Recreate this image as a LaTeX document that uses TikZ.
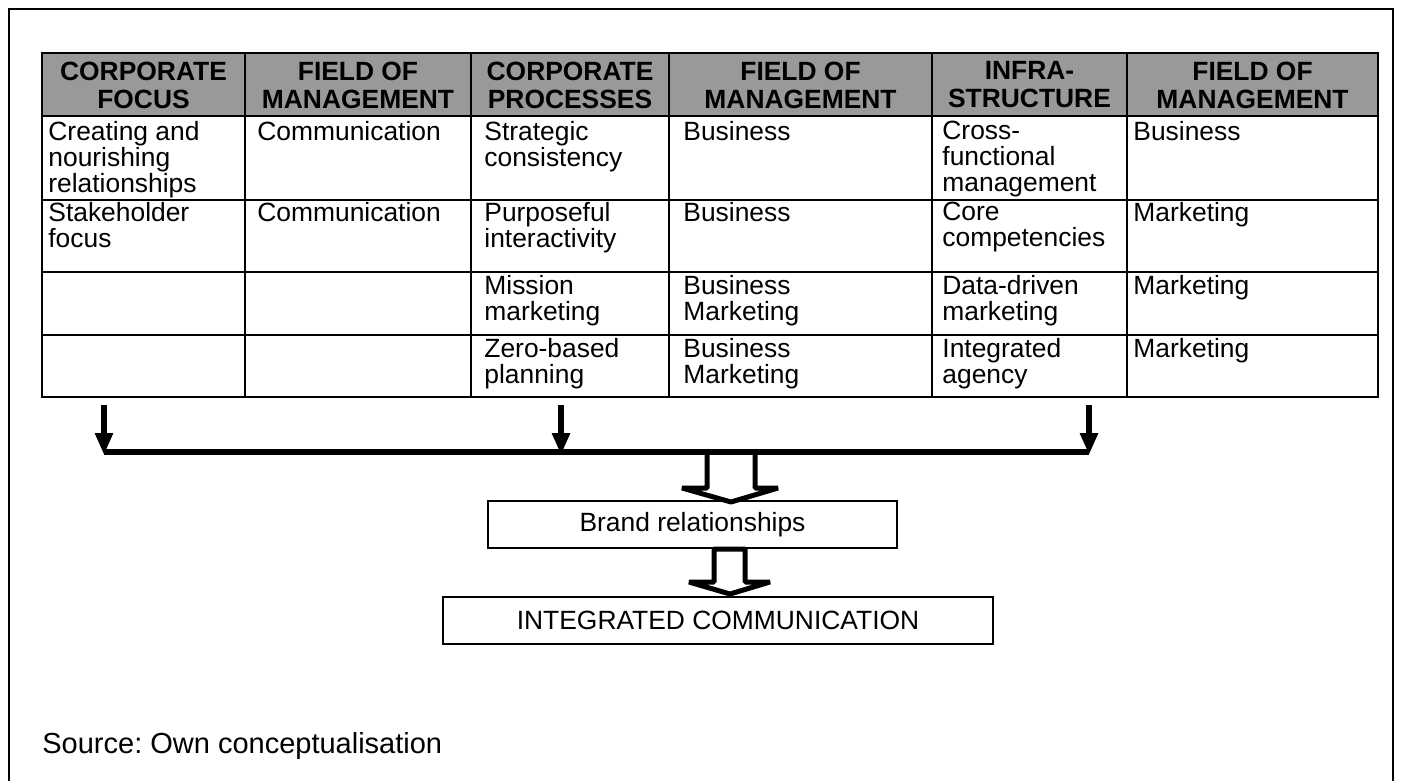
\documentclass[tikz,border=0pt]{standalone}
\usepackage{fontspec}
\setmainfont{Liberation Sans}
\usetikzlibrary{arrows.meta}
\definecolor{headgray}{RGB}{153,153,153}
\newcommand{\tabfont}{\fontsize{13.2}{13}\selectfont}
\newcommand{\srcfont}{\fontsize{14.5}{16}\selectfont}
\frenchspacing

\begin{document}
\begin{tikzpicture}[x=0.5pt,y=-0.5pt]
\useasboundingbox (0,0) rectangle (1401,781);
\draw[line width=1pt] (9,781) -- (9,9) -- (1393,9) -- (1393,781);

% table grid
\fill[headgray] (42,53) rectangle (1378,116);
\draw[line width=1pt] (42,53) rectangle (1378,397);
\draw[line width=1pt] (42,116) -- (1378,116);
\draw[line width=1pt] (42,200) -- (1378,200);
\draw[line width=1pt] (42,272) -- (1378,272);
\draw[line width=1pt] (42,335) -- (1378,335);
\draw[line width=1pt] (245,53) -- (245,397);
\draw[line width=1pt] (471,53) -- (471,397);
\draw[line width=1pt] (669,53) -- (669,397);
\draw[line width=1pt] (932,53) -- (932,397);
\draw[line width=1pt] (1127,53) -- (1127,397);

\begin{scope}[every node/.style={font=\fontsize{13.2}{14}\selectfont\bfseries,align=center,inner sep=0pt}]
    \node (h1) at (143.5,85) {CORPORATE\\FOCUS};
    \node (h2) at (358,85) {FIELD OF\\MANAGEMENT};
    \node (h3) at (570,85) {CORPORATE\\PROCESSES};
    \node (h4) at (800.5,85) {FIELD OF\\MANAGEMENT};
    \node (h5) at (1029.5,85) {INFRA-\\STRUCTURE};
    \node (h6) at (1252.5,85) {FIELD OF\\MANAGEMENT};
\end{scope}

\begin{scope}[every node/.style={font=\tabfont,align=left,anchor=north west,inner sep=0pt}]
    \node (f1) at (48,121) {Creating and\\nourishing\\relationships};
    \node (f2) at (48,202) {Stakeholder\\focus};
    \node (m1) at (257,121) {Communication};
    \node (m2) at (257,202) {Communication};

    \node (p1) at (484,121) {Strategic\\consistency};
    \node (p2) at (484,202) {Purposeful\\interactivity};
    \node (p3) at (484,275) {Mission\\marketing};
    \node (p4) at (484,338) {Zero-based\\planning};
    \node (b1) at (683,121) {Business};
    \node (b2) at (683,202) {Business};
    \node (b3) at (683,275) {Business\\Marketing};
    \node (b4) at (683,338) {Business\\Marketing};

    \node (i1) at (942,121) {Cross-\\functional\\management};
    \node (i2) at (942,202) {Core\\competencies};
    \node (i3) at (942,275) {Data-driven\\marketing};
    \node (i4) at (942,338) {Integrated\\agency};
    \node (k1) at (1133,121) {Business};
    \node (k2) at (1133,202) {Marketing};
    \node (k3) at (1133,275) {Marketing};
    \node (k4) at (1133,338) {Marketing};
\end{scope}

\begin{scope}[every node/.style={draw,line width=1pt,font=\tabfont,inner sep=0pt}]
    \node[minimum width=204.5pt,minimum height=23.5pt] (R) at (692.5,524.5) {Brand relationships};
    \node[minimum width=275pt,minimum height=23.5pt] (C) at (718,620.5) {INTEGRATED COMMUNICATION};
\end{scope}

\coordinate (x1) at (104,405);
\coordinate (x2) at (561,405);
\coordinate (x3) at (1089,405);
\coordinate (y1) at (104,455);
\coordinate (y2) at (561,455);
\coordinate (y3) at (1089,455);

\begin{scope}[line width=3pt,>={Triangle[width=8.5pt,length=11pt]}]
    \draw[->] (x1) -- (y1);
    \draw[->] (x2) -- (y2);
    \draw[->] (x3) -- (y3);
\end{scope}

\begin{scope}[line width=2.5pt,line join=bevel]
    \filldraw[fill=white] (707,452) -- (707,488) -- (682,488) -- (731,502) -- (778,488) -- (755,488) -- (755,452);
    \filldraw[fill=white] (714,549) -- (745,549) -- (745,582) -- (770,582) -- (730,594) -- (689,582) -- (714,582) -- cycle;
\end{scope}
\draw[line width=3pt] (104,452) -- (1089,452);

\node[font=\srcfont,anchor=base west,inner sep=0pt] (S) at (42,753) {Source: Own conceptualisation};
\end{tikzpicture}
\end{document}
